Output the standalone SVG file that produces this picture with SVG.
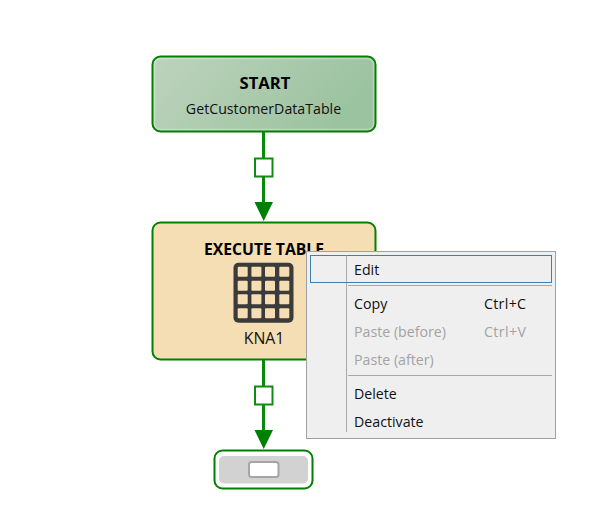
<svg xmlns="http://www.w3.org/2000/svg" width="611" height="530" viewBox="0 0 611 530">
<style>
text{font-family:"Open Sans","Noto Sans","Liberation Sans",sans-serif;fill:#111}
.title{font-size:15.7px;font-weight:700;text-anchor:middle;fill:#000}
.big{font-size:16.6px}
.sub{font-size:14.2px;text-anchor:middle}
.box{stroke:#008000;stroke-width:2}
.inner{fill:none;stroke:#fff;stroke-opacity:.3;stroke-width:1.5}
.wire{stroke:#0a8a0a;stroke-width:3;fill:none}
.port{fill:#fff;stroke:#138a13;stroke-width:2}
.head{fill:#008000}
.mi{font-size:14.2px}
.dis{fill:#a3a3a3}
.sep{stroke:#a8a8a8;stroke-width:1}
.cell{fill:#f5deb3}
</style>
<defs>
<linearGradient id="g" x1="0" y1="0" x2="1" y2="0.3"><stop offset="0" stop-color="#bdd3bd"/><stop offset="1" stop-color="#9cc3a0"/></linearGradient>
<g id="c"><rect width="10" height="10" rx="1" class="cell"/></g>
</defs>
<rect width="611" height="530" fill="#fff"/>
<g id="connectors">
<path class="wire" d="M263.5 132V158M263.5 177V204M263.5 360V386M263.5 405V432"/>
<rect class="port" x="255" y="158.500" width="17.500" height="18"/>
<rect class="port" x="255" y="386.500" width="17.500" height="18"/>
<path class="head" d="M254.500 202H273L263.700 221Z"/>
<path class="head" d="M254.500 430H273L263.700 449Z"/>
</g>
<g id="start">
<rect class="box" x="152.500" y="56.500" width="223" height="75" rx="8" fill="url(#g)"/>
<rect class="inner" x="154.500" y="58.500" width="219" height="71" rx="6"/>
<text class="title big" x="265" y="88.500">START</text>
<text class="sub" x="263.500" y="114">GetCustomerDataTable</text>
</g>
<g id="execute">
<rect class="box" x="152.500" y="222.500" width="223" height="137" rx="8" fill="#f5deb3"/>
<text class="title" x="264" y="255">EXECUTE TABLE</text>
<rect x="233.500" y="262.700" width="60" height="60" rx="5" fill="#3b3b3b"/>
<use href="#c" x="237.700" y="266.700"/><use href="#c" x="251.400" y="266.700"/><use href="#c" x="265" y="266.700"/><use href="#c" x="279.300" y="266.700"/>
<use href="#c" x="237.700" y="280.700"/><use href="#c" x="251.400" y="280.700"/><use href="#c" x="265" y="280.700"/><use href="#c" x="279.300" y="280.700"/>
<use href="#c" x="237.700" y="294.300"/><use href="#c" x="251.400" y="294.300"/><use href="#c" x="265" y="294.300"/><use href="#c" x="279.300" y="294.300"/>
<use href="#c" x="237.700" y="308.300"/><use href="#c" x="251.400" y="308.300"/><use href="#c" x="265" y="308.300"/><use href="#c" x="279.300" y="308.300"/>
<text class="sub" x="264" y="344" style="font-size:15.8px">KNA1</text>
</g>
<g id="end">
<rect class="box" x="214.500" y="450.500" width="98" height="38" rx="8" fill="#fff"/>
<rect x="219" y="456" width="89" height="27.500" rx="5" fill="#d2d2d2"/>
<rect x="249" y="462" width="29.500" height="15" rx="2.500" fill="#fff" stroke="#a5a5a5" stroke-width="2"/>
</g>
<g id="context-menu">
<rect x="306.500" y="251.500" width="249" height="187" fill="#efefef" stroke="#a0a0a0"/>
<line class="sep" x1="346.500" y1="257" x2="346.500" y2="432"/>
<rect x="310.500" y="255.500" width="241" height="27" fill="#efefef" stroke="#3f80b0"/>
<line class="sep" x1="346.500" y1="255.500" x2="346.500" y2="282"/>
<line class="sep" x1="348" y1="285.500" x2="552" y2="285.500"/>
<line class="sep" x1="348" y1="375.500" x2="552" y2="375.500"/>
<text class="mi" x="354" y="274.500">Edit</text>
<text class="mi" x="354" y="309">Copy</text>
<text class="mi" x="484" y="309" textLength="42">Ctrl+C</text>
<text class="mi dis" x="354" y="337">Paste (before)</text>
<text class="mi dis" x="484" y="337" textLength="42">Ctrl+V</text>
<text class="mi dis" x="354" y="365">Paste (after)</text>
<text class="mi" x="354" y="399">Delete</text>
<text class="mi" x="354" y="427">Deactivate</text>
</g>
</svg>
